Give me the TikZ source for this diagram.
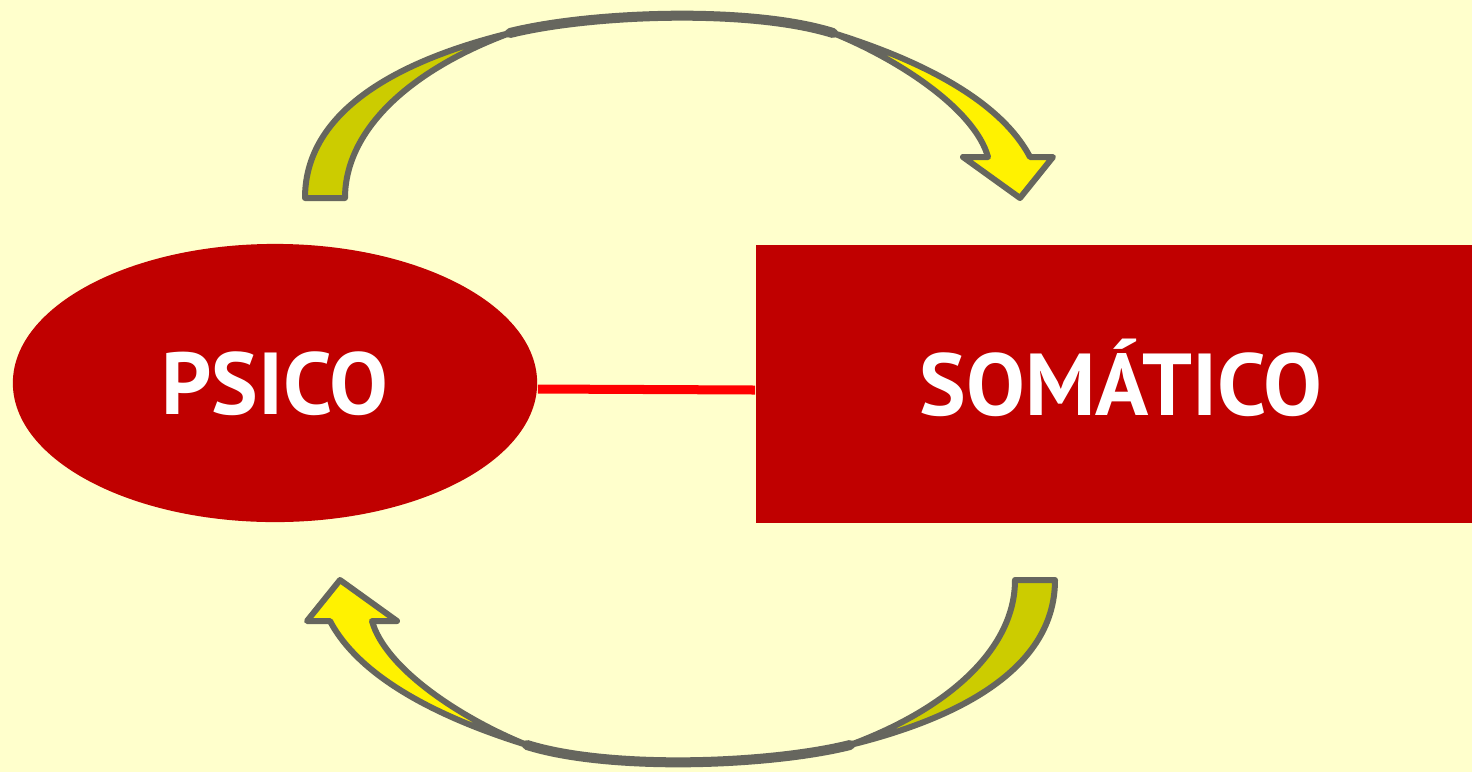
\documentclass[tikz,border=0pt]{standalone}
\usepackage{fontspec}
\setsansfont{PT Sans}
\usetikzlibrary{shapes.geometric}

\definecolor{bgyellow}{RGB}{255,255,204}
\definecolor{darkred}{RGB}{192,0,0}
\definecolor{brightred}{RGB}{255,0,0}
\definecolor{arrowgrey}{RGB}{102,102,94}
\definecolor{darkyellow}{RGB}{204,204,0}

\begin{document}
\begin{tikzpicture}[x=0.01cm,y=-0.01cm,
			box/.style = {fill=darkred,text=white,inner sep=0pt,
				font=\sffamily\bfseries\fontsize{25}{30}\selectfont,
				text height=0.62cm,text depth=0pt},
			link/.style = {draw=brightred,line width=0.09cm},
			outline/.style = {draw=arrowgrey,line width=0.06cm,line join=round},
			bendarrow/.pic = {
				\draw[arrowgrey,line width=0.1cm,line cap=round] (510,33) .. controls (590,13) and (750,7) .. (833,33);
				\path[outline,fill=darkyellow] (305,198) .. controls (305,110) and (400,60) .. (510,33)
					.. controls (410,70) and (345,130) .. (345,198) -- cycle;
				\path[outline,fill=yellow] (833,33) .. controls (920,60) and (1000,100) .. (1030,157)
					-- (1053,157) -- (1020,198) -- (963,157) -- (988,157)
					.. controls (975,110) and (900,60) .. (833,33) -- cycle;
			}]
			\fill[bgyellow] (0,0) rectangle (1472,772);
			\useasboundingbox (0,0) rectangle (1472,772);
			\node [box, ellipse, minimum width=5.24cm, minimum height=2.78cm] (psico) at (275,383) {PSICO};
			\node [box, rectangle, minimum width=7.16cm, minimum height=2.78cm] (somatico) at (1114,384) {\hspace*{0.14cm}SOMÁTICO};
			\draw[link] ([yshift=-0.06cm]psico.east) -- ([yshift=-0.06cm]somatico.west);
			\pic (upper) at (0,0) {bendarrow};
			\pic[rotate=180] (lower) at (1360,778) {bendarrow};
		\end{tikzpicture}
\end{document}
